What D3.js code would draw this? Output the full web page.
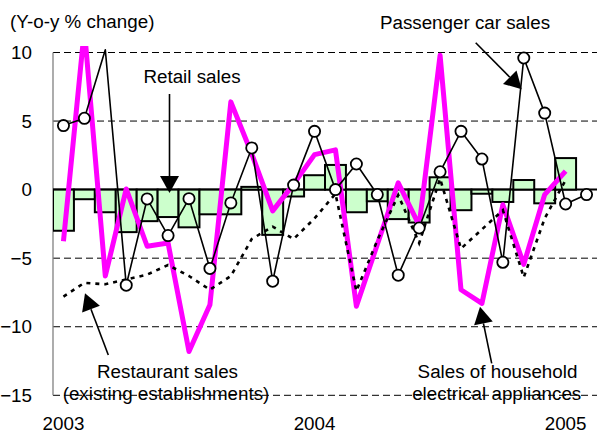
<!DOCTYPE html>
<html>
<head>
<meta charset="utf-8">
<script src="https://cdn.jsdelivr.net/npm/d3@7"></script>
<style>
html,body{margin:0;padding:0;background:#fff;}
svg{display:block;}
text{font-family:"Liberation Sans",Arial,sans-serif;fill:#000;}
</style>
</head>
<body>
<svg id="chart" width="597" height="434"></svg>
<script>
// ---- data ----
const months = ["2003-01","2003-02","2003-03","2003-04","2003-05","2003-06","2003-07","2003-08","2003-09","2003-10","2003-11","2003-12",
                "2004-01","2004-02","2004-03","2004-04","2004-05","2004-06","2004-07","2004-08","2004-09","2004-10","2004-11","2004-12",
                "2005-01","2005-02"];
const yearTickMonths = ["2003-01","2004-01","2005-01"];
const yearLabels = ["2003","2004","2005"];
const yTicks = [-15,-10,-5,0,5,10];
const gridValues = [-15,-10,-5,5,10];

const retailSales = [-3.0,-0.7,-1.65,-3.1,-2.3,-2.0,-2.75,-1.8,-1.8,0.2,-3.3,-0.5,
                     1.05,1.8,-1.65,-0.85,-2.15,-2.4,0.9,-1.5,-0.3,-0.9,0.7,-1.0,
                     2.3,null];
const passengerCarSales = [4.67,5.2,10.2,-6.97,-0.68,-3.35,-0.66,-5.75,-0.97,3.04,-6.68,0.33,
                           4.25,0.0,1.87,-0.36,-6.24,-2.8,1.3,4.25,2.23,-5.3,9.6,5.58,
                           -1.05,-0.36];
const householdAppliances = [-3.76,11.7,-6.3,0.05,-4.13,-3.9,-11.8,-8.4,6.4,2.6,-1.55,0.4,
                             2.55,2.9,-8.5,-4.0,0.5,-2.6,9.8,-7.3,-8.3,-1.1,-5.45,-0.36,
                             1.35,null];
const restaurantSales = [-7.8,-6.8,-6.9,-6.55,-6.2,-5.5,-6.3,-7.3,-6.3,-3.6,-2.7,-3.6,
                         -2.1,-0.3,-7.4,-3.7,-0.4,-3.9,0.8,-4.3,-2.9,-1.5,-6.4,-2.1,
                         0.7,null];

(function () {
// ---- layout ----
const svg = d3.select("#chart");
const FONT = "18.8px";
const pLeft = 53, pRight = 597, pTop = 52.5, pBottom = 395.3;
const x = d3.scaleBand().domain(months).range([pLeft, pRight]).padding(0);
const y = d3.scaleLinear().domain([-15, 10]).range([pBottom, pTop]);
const cx = m => x(m) + x.bandwidth() / 2;

svg.append("defs").append("clipPath").attr("id", "plotclip")
  .append("rect").attr("x", pLeft).attr("y", 46).attr("width", pRight - pLeft).attr("height", 360);

// gridlines
svg.append("g").selectAll("line").data(gridValues).join("line")
  .attr("x1", pLeft).attr("x2", pRight)
  .attr("y1", d => y(d)).attr("y2", d => y(d))
  .attr("stroke", "#000").attr("stroke-width", 1).attr("stroke-dasharray", "7,4");

// y axis line
svg.append("line").attr("x1", pLeft).attr("x2", pLeft).attr("y1", y(10)).attr("y2", y(-15))
  .attr("stroke", "#808080").attr("stroke-width", 1.3);

// y tick labels via axis
const yAxis = svg.append("g").attr("transform", `translate(${pLeft - 21},0)`)
  .call(d3.axisLeft(y).tickValues(yTicks).tickSize(0).tickPadding(0).tickFormat(d3.format("d")));
yAxis.select(".domain").remove();
yAxis.selectAll("text").attr("font-size", FONT).attr("font-family", "Liberation Sans, Arial, sans-serif").attr("fill", "#000");

// x axis year labels
const xAxis = svg.append("g").attr("transform", `translate(0,${pBottom + 21})`)
  .call(d3.axisBottom(x).tickValues(yearTickMonths).tickSize(0).tickPadding(0)
        .tickFormat(m => yearLabels[yearTickMonths.indexOf(m)]));
xAxis.select(".domain").remove();
xAxis.selectAll("text").attr("font-size", FONT).attr("font-family", "Liberation Sans, Arial, sans-serif").attr("fill", "#000").attr("dy", "0.71em");

const plot = svg.append("g").attr("clip-path", "url(#plotclip)");

// zero line
plot.append("line").attr("x1", pLeft).attr("x2", pRight).attr("y1", y(0)).attr("y2", y(0))
  .attr("stroke", "#000").attr("stroke-width", 2);

// retail bars
plot.append("g").selectAll("rect")
  .data(months.map((m, i) => ({m, v: retailSales[i]})).filter(d => d.v != null))
  .join("rect")
  .attr("x", d => x(d.m)).attr("width", x.bandwidth())
  .attr("y", d => Math.min(y(d.v), y(0)))
  .attr("height", d => Math.abs(y(d.v) - y(0)))
  .attr("fill", "#ccffcc").attr("stroke", "#000").attr("stroke-width", 2);

const line = d3.line().defined(d => d.v != null).x(d => cx(d.m)).y(d => y(d.v));
const series = arr => months.map((m, i) => ({m, v: arr[i]}));

// household appliances (magenta)
plot.append("path").datum(series(householdAppliances)).attr("d", line)
  .attr("fill", "none").attr("stroke", "#ff00ff").attr("stroke-width", 5)
  .attr("stroke-linejoin", "round");

// restaurant (dotted)
plot.append("path").datum(series(restaurantSales)).attr("d", line)
  .attr("fill", "none").attr("stroke", "#000").attr("stroke-width", 2.6)
  .attr("stroke-dasharray", "4,5");

// passenger car sales
plot.append("path").datum(series(passengerCarSales)).attr("d", line)
  .attr("fill", "none").attr("stroke", "#000").attr("stroke-width", 1.6)
  .attr("stroke-linejoin", "round");
plot.append("g").selectAll("circle")
  .data(series(passengerCarSales).filter(d => d.v != null && d.v <= 10))
  .join("circle")
  .attr("cx", d => cx(d.m)).attr("cy", d => y(d.v)).attr("r", 5.6)
  .attr("fill", "#fff").attr("stroke", "#000").attr("stroke-width", 1.8);

// annotations
function arrow(x1, y1, x2, y2) {
  const ang = Math.atan2(y2 - y1, x2 - x1);
  const L = 17, Wd = 9.5;
  const bx = x2 - L * Math.cos(ang), by = y2 - L * Math.sin(ang);
  svg.append("line").attr("x1", x1).attr("y1", y1).attr("x2", bx).attr("y2", by)
    .attr("stroke", "#000").attr("stroke-width", 1.6);
  const px = -Math.sin(ang), py = Math.cos(ang);
  svg.append("polygon")
    .attr("points", [[x2, y2], [bx + Wd * px, by + Wd * py], [bx - Wd * px, by - Wd * py]].map(p => p.join(",")).join(" "))
    .attr("fill", "#000");
}
function label(txt, xx, yy, anchor) {
  svg.append("text").attr("x", xx).attr("y", yy).attr("text-anchor", anchor || "middle")
    .attr("font-size", FONT).text(txt);
}

label("(Y-o-y % change)", 10, 28, "start");
label("Retail sales", 192, 83);
arrow(169.5, 94, 169.5, 193);
label("Passenger car sales", 465, 29);
arrow(475.7, 42.7, 521.7, 89.3);
label("Restaurant sales", 167.5, 378);
label("(existing establishments)", 166, 400);
arrow(108.3, 355, 85, 293.3);
label("Sales of household", 497.5, 378);
label("electrical appliances", 496.7, 400);
arrow(491.7, 363.3, 480, 306.7);
})();
</script>
</body>
</html>
